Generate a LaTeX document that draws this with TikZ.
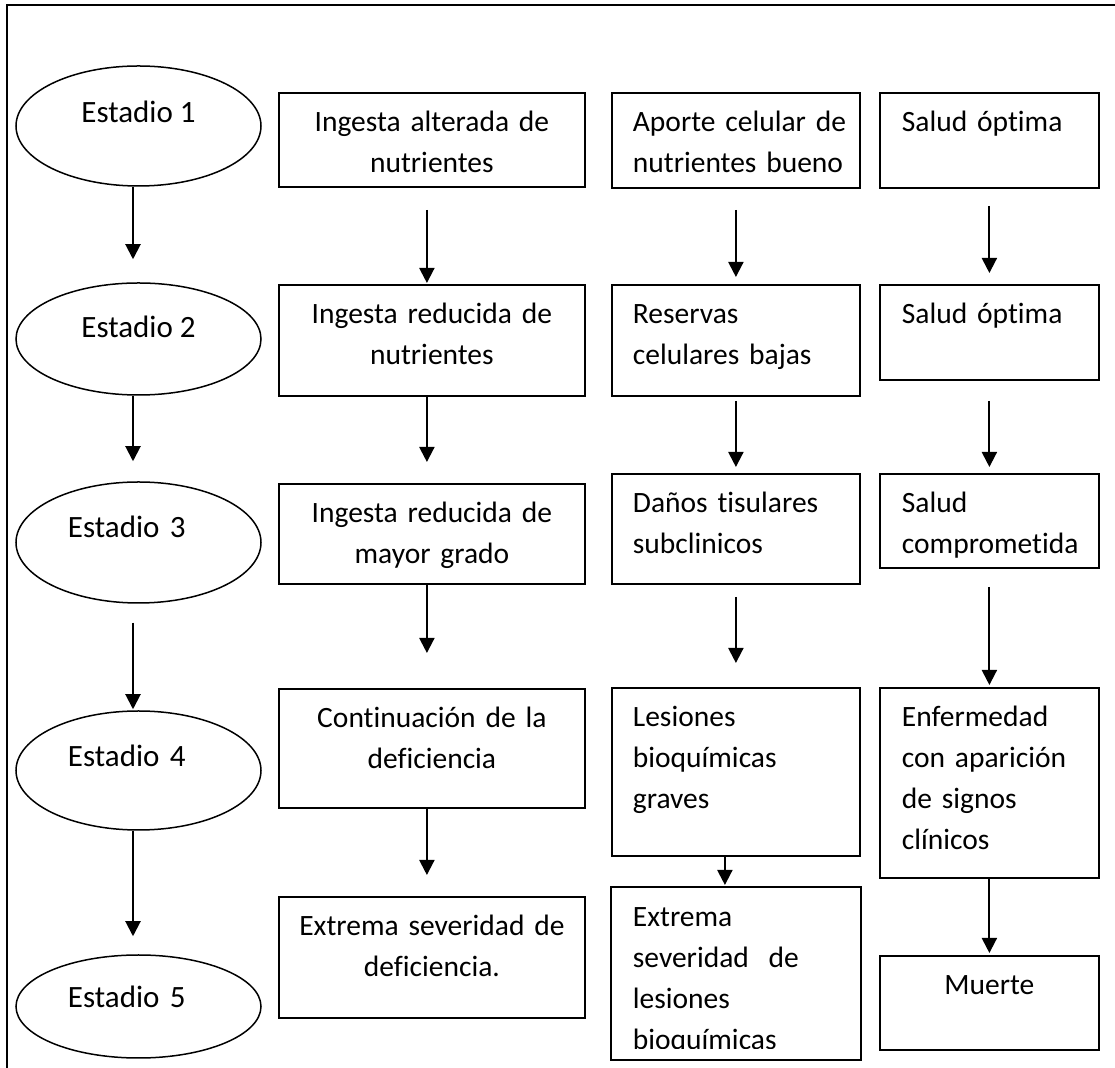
\documentclass[tikz,border=0pt]{standalone}
\usepackage{fontspec}
\setmainfont{Carlito}[Ligatures=NoCommon,Contextuals=NoAlternate]
\usetikzlibrary{arrows.meta}
\usetikzlibrary{shapes.geometric}

\begin{document}
\begin{tikzpicture}[x=0.5pt,y=-0.5pt,
		every node/.style={font=\fontsize{14.75}{20.5}\selectfont},
		stage/.style={draw,ellipse,line width=0.75pt,inner sep=0pt,minimum width=122.5pt,text height=10pt,font=\fontsize{15.5}{20}\selectfont},
		stagel/.style={stage,text width=70.5pt,align=left},
		box/.style={draw,line width=0.9pt,anchor=north west,inner ysep=0pt,text height=19.25pt},
		boxa/.style={box,inner xsep=6pt,text width=141pt,align=center},
		boxb/.style={box,inner xsep=0pt,text width=124pt,align=left,execute at begin node={\leftskip=10.5pt}},
		boxc/.style={box,inner xsep=0pt,text width=109.5pt,align=left,execute at begin node={\leftskip=11pt}},
		arr/.style={-{Triangle[width=7.5pt,length=7.5pt]},line width=1pt}]
		\useasboundingbox (0,0) rectangle (1115,1068);
		\draw[line width=0.7pt] (1115,5) -- (7,5) -- (7,1068);

		% estadios
		\node[stage,minimum height=60pt,text depth=13pt] (e1) at (138.5,126) {Estadio 1};
		\node[stage,minimum height=56pt,text depth=11pt] (e2) at (138.5,339) {Estadio 2};
		\node[stagel,minimum height=60.5pt,text depth=14.5pt] (e3) at (138.5,542.5) {Estadio 3};
		\node[stagel,minimum height=59.5pt,text depth=13.5pt] (e4) at (138.5,770.5) {Estadio 4};
		\node[stagel,minimum height=51.5pt,text depth=8.5pt] (e5) at (138.5,1006.5) {Estadio 5};

		% ingesta
		\node[boxa,text depth=27.75pt] (b21) at (278,92) {Ingesta alterada de\\nutrientes};
		\node[boxa,text depth=36.25pt] (b22) at (278,284) {Ingesta reducida de\\nutrientes};
		\node[boxa,text depth=30.75pt] (b23) at (278,483) {Ingesta reducida de\\mayor grado};
		\node[boxa,text depth=40.25pt] (b24) at (278,688) {Continuación de la\\deficiencia};
		\node[boxa,text depth=41.25pt] (b25) at (278,896) {Extrema severidad de\\deficiencia.};

		% reservas y lesiones
		\node[boxb,text depth=28.25pt] (b31) at (611,92) {Aporte celular de\\nutrientes bueno};
		\node[boxb,text depth=36.25pt] (b32) at (611,284) {Reservas\\celulares bajas};
		\node[boxb,text depth=35.75pt] (b33) at (611,473) {Daños tisulares\\subclinicos};
		\node[boxb,text depth=64.75pt] (b34) at (611,687) {Lesiones\\bioquímicas\\graves};
		\begin{scope}
			\clip (600,880) rectangle (870,1049);
			\node[boxb,draw=none,text depth=66.25pt] (b35) at (611,887) {Extrema\\severidad\ \ de\\lesiones\\bioquímicas};
		\end{scope}
		\draw[line width=0.9pt] (b35.north west) rectangle (b35.south east);

		% salud
		\node[boxc,text depth=28.25pt] (b41) at (879,92) {Salud óptima};
		\node[boxc,text depth=28.25pt] (b42) at (879,284) {Salud óptima};
		\node[boxc,text depth=27.75pt] (b43) at (879,473) {Salud\\comprometida};
		\node[boxc,text depth=75.75pt] (b44) at (879,687) {Enfermedad\\con aparición\\de signos\\clínicos};
		\node[box,inner xsep=6pt,text width=97.5pt,align=center,text depth=27.75pt] (b45) at (879,955) {Muerte};

		% flechas
		\draw[arr,shorten >=11.5pt] ([xshift=-2.75pt]e1.south) -- ([xshift=-2.75pt]e2.north);
		\draw[arr,shorten >=10pt] ([xshift=-2.75pt]e2.south) -- ([xshift=-2.75pt]e3.north);
		\draw[arr,shorten <=9.5pt,shorten >=0.5pt] ([xshift=-2.75pt]e3.south) -- ([xshift=-2.75pt]e4.north);
		\draw[arr,shorten >=9pt] ([xshift=-2.75pt]e4.south) -- ([xshift=-2.75pt]e5.north);

		\draw[arr,shorten <=11pt,shorten >=0.5pt] ([xshift=-2.5pt]b21.south) -- ([xshift=-2.5pt]b22.north);
		\draw[arr,shorten >=10.5pt] ([xshift=-2.5pt]b22.south) -- ([xshift=-2.5pt]b23.north);
		\draw[arr,shorten >=17.5pt] ([xshift=-2.5pt]b23.south) -- ([xshift=-2.5pt]b24.north);
		\draw[arr,shorten >=10.5pt] ([xshift=-2.5pt]b24.south) -- ([xshift=-2.5pt]b25.north);

		\draw[arr,shorten <=10.5pt,shorten >=3.5pt] (b31.south) -- (b32.north);
		\draw[arr,shorten <=2pt,shorten >=3pt] (b32.south) -- (b33.north);
		\draw[arr,shorten <=6pt,shorten >=12pt] (b33.south) -- (b34.north);
		\draw[arr,shorten >=1pt] ([xshift=-5.5pt]b34.south) -- ([xshift=-5.5pt]b35.north);

		\draw[arr,shorten <=8.5pt,shorten >=5.5pt] (b41.south) -- (b42.north);
		\draw[arr,shorten <=10pt,shorten >=3pt] (b42.south) -- (b43.north);
		\draw[arr,shorten <=9pt,shorten >=1pt] (b43.south) -- (b44.north);
		\draw[arr,shorten >=1pt] (b44.south) -- (b45.north);
	\end{tikzpicture}
\end{document}
